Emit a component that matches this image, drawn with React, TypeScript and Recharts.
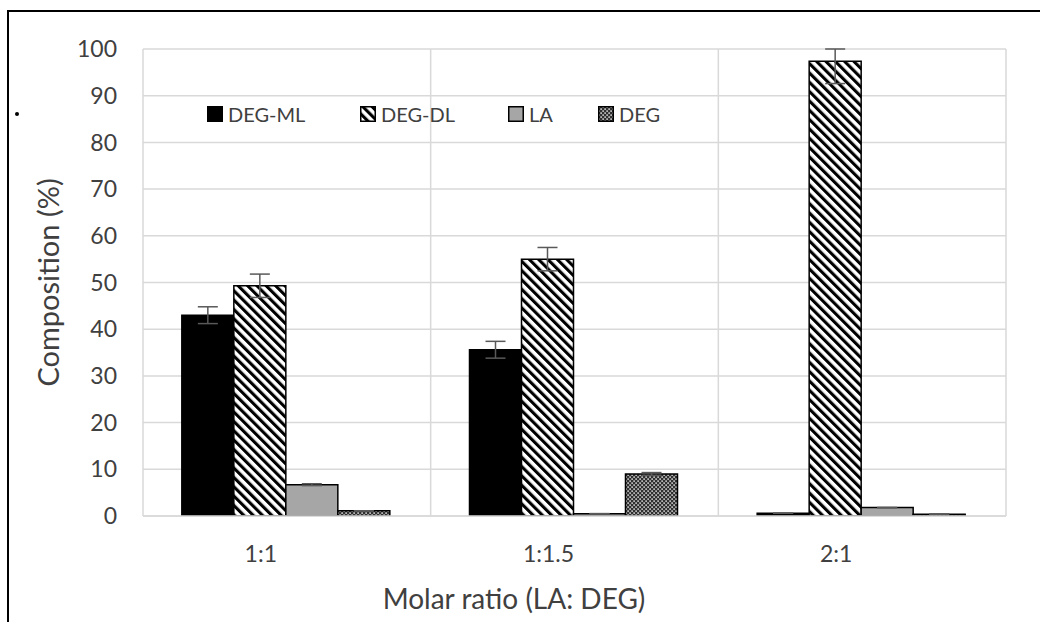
import React from 'react';
import { BarChart, Bar, XAxis, YAxis, CartesianGrid, ErrorBar, Label } from 'recharts';

const categories = ['1:1', '1:1.5', '2:1'];
const degMl = [43.0, 35.6, 0.6];
const degDl = [49.3, 55.0, 97.4];
const la = [6.7, 0.5, 1.8];
const deg = [1.1, 9.0, 0.4];
const degMlErr = [1.8, 1.8, 0];
const degDlErr = [2.5, 2.5, 4.8];
const laErr = [0.2, 0, 0];
const degErr = [0, 0.3, 0];
const yTicks = [0, 10, 20, 30, 40, 50, 60, 70, 80, 90, 100];
const seriesNames = ['DEG-ML', 'DEG-DL', 'LA', 'DEG'];
const Y_MAX = 100;

// error bars are cut at the top of the value axis, as in the original
const clipErr = (v: number, e: number) => [e, Math.max(0, Math.min(e, Y_MAX - v))];

const data = categories.map((c, i) => ({
  cat: c,
  ml: degMl[i],
  dl: degDl[i],
  la: la[i],
  deg: deg[i],
  mlErr: clipErr(degMl[i], degMlErr[i]),
  dlErr: clipErr(degDl[i], degDlErr[i]),
  laErr: clipErr(la[i], laErr[i]),
  degErr: clipErr(deg[i], degErr[i]),
}));

const FONT = 'Lato, "Open Sans", sans-serif';
const TEXT = '#404040';
const GRID = '#d9d9d9';
const ERR = '#595959';

const fills = ['#000000', 'url(#stripes)', '#a6a6a6', 'url(#dots)'];
const legendLefts = [198, 351, 499, 589];

const Patterns = () => (
  <svg width={0} height={0} style={{ position: 'absolute' }}>
    <defs>
      <pattern id="stripes" patternUnits="userSpaceOnUse" width={6.6} height={6.6} patternTransform="rotate(-45)">
        <rect x={0} y={0} width={6.6} height={6.6} fill="#ffffff" />
        <rect x={0} y={0} width={3.1} height={6.6} fill="#000000" />
      </pattern>
      <pattern id="dots" patternUnits="userSpaceOnUse" width={4} height={4}>
        <rect x={0} y={0} width={4} height={4} fill="#303030" />
        <rect x={0.4} y={0.4} width={1.4} height={1.4} fill="#ffffff" />
        <rect x={2.4} y={2.4} width={1.4} height={1.4} fill="#ffffff" />
      </pattern>
    </defs>
  </svg>
);

export default function App() {
  return (
    <div style={{ position: 'absolute', left: 7, top: 10, width: 1031, height: 610, borderTop: '2px solid #000', borderLeft: '2px solid #000', background: '#fff' }}>
      <Patterns />
      <BarChart
        width={1031}
        height={610}
        data={data}
        margin={{ top: 37, right: 34, left: 0, bottom: 0 }}
        barCategoryGap="13.5%"
        barGap={0}
      >
        <CartesianGrid
          stroke={GRID}
          strokeWidth={1.5}
          verticalCoordinatesGenerator={({ offset }: any) => [
            offset.left,
            offset.left + offset.width / 3,
            offset.left + (2 * offset.width) / 3,
            offset.left + offset.width,
          ]}
        />
        <XAxis
          dataKey="cat"
          height={106}
          tickLine={false}
          tickSize={0}
          tickMargin={30}
          axisLine={{ stroke: GRID, strokeWidth: 1.5 }}
          tick={{ fill: TEXT, fontSize: 23, fontFamily: FONT, dx: -26 }}
        >
          <Label
            content={() => (
              <text x={505} y={586} textAnchor="middle" dominantBaseline="central" fill={TEXT} fontSize={28} fontFamily={FONT}>
                Molar ratio (LA: DEG)
              </text>
            )}
          />
        </XAxis>
        <YAxis
          width={134}
          domain={[0, Y_MAX]}
          ticks={yTicks}
          allowDataOverflow={true}
          tickLine={false}
          tickSize={0}
          tickMargin={26}
          axisLine={false}
          tick={{ fill: TEXT, fontSize: 23, fontFamily: FONT }}
        >
          <Label
            content={({ viewBox }: any) => {
              const cx = viewBox.x + 38;
              const cy = viewBox.y + viewBox.height / 2;
              return (
                <text x={cx} y={cy} transform={`rotate(-90 ${cx} ${cy})`} textAnchor="middle" dominantBaseline="central" fill={TEXT} fontSize={29} fontFamily={FONT}>
                  Composition (%)
                </text>
              );
            }}
          />
        </YAxis>
        <Bar dataKey="ml" name={seriesNames[0]} fill={fills[0]} stroke="#000" strokeWidth={1.5} isAnimationActive={false}>
          <ErrorBar dataKey="mlErr" stroke={ERR} strokeWidth={1.5} width={10} />
        </Bar>
        <Bar dataKey="dl" name={seriesNames[1]} fill={fills[1]} stroke="#000" strokeWidth={1.5} isAnimationActive={false}>
          <ErrorBar dataKey="dlErr" stroke={ERR} strokeWidth={1.5} width={10} />
        </Bar>
        <Bar dataKey="la" name={seriesNames[2]} fill={fills[2]} stroke="#000" strokeWidth={1.5} isAnimationActive={false}>
          <ErrorBar dataKey="laErr" stroke={ERR} strokeWidth={1.5} width={10} />
        </Bar>
        <Bar dataKey="deg" name={seriesNames[3]} fill={fills[3]} stroke="#000" strokeWidth={1.5} isAnimationActive={false}>
          <ErrorBar dataKey="degErr" stroke={ERR} strokeWidth={1.5} width={10} />
        </Bar>
      </BarChart>
      <div style={{ position: 'absolute', left: 0, top: 92, height: 20, width: 800, fontFamily: FONT, fontSize: 20, color: TEXT }}>
        {seriesNames.map((n, i) => (
          <div key={n} style={{ position: 'absolute', left: legendLefts[i], top: 0, display: 'flex', alignItems: 'center', height: 20, whiteSpace: 'nowrap' }}>
            <svg width={16} height={16} style={{ marginRight: 5 }}>
              <rect x={0.75} y={0.75} width={14.5} height={14.5} fill={fills[i]} stroke="#000" strokeWidth={1.5} />
            </svg>
            <span>{n}</span>
          </div>
        ))}
      </div>
      <div style={{ position: 'absolute', left: 6, top: 100, width: 4, height: 4, borderRadius: 2, background: '#000' }} />
    </div>
  );
}
